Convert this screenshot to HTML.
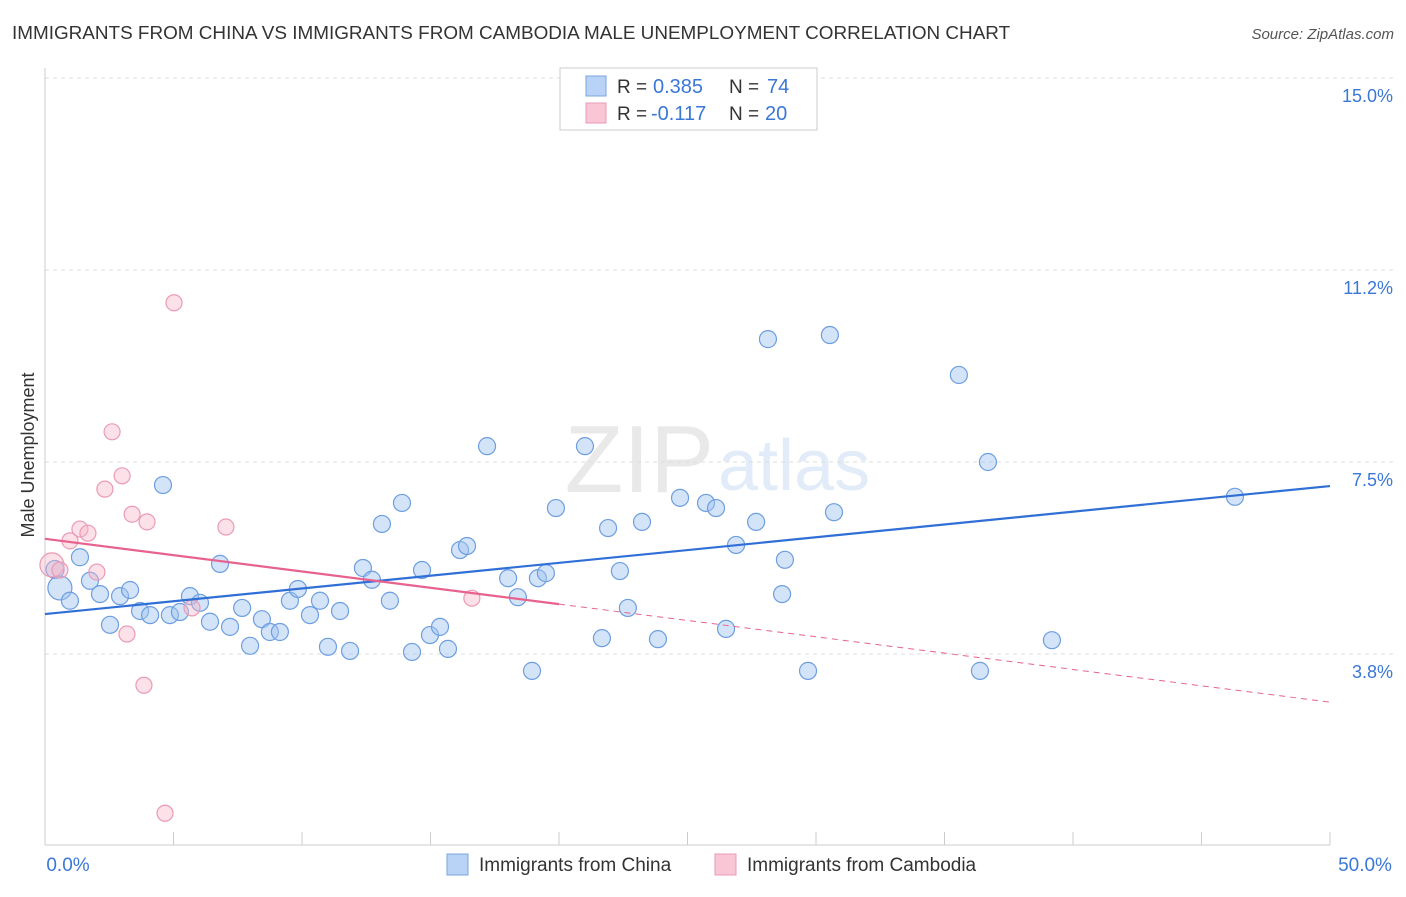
<!DOCTYPE html>
<html><head><meta charset="utf-8"><style>
body{margin:0;background:#fff;font-family:"Liberation Sans",sans-serif;}
svg text{font-family:"Liberation Sans",sans-serif;}
</style></head><body>
<svg id="chart" width="1406" height="892" viewBox="0 0 1406 892">
<text x="12" y="39" font-size="18.9" fill="#333">IMMIGRANTS FROM CHINA VS IMMIGRANTS FROM CAMBODIA MALE UNEMPLOYMENT CORRELATION CHART</text>
<text x="1394" y="39" font-size="15" fill="#555" font-style="italic" text-anchor="end">Source: ZipAtlas.com</text>
<text x="714" y="492" font-size="96" fill="#e9e9e9" text-anchor="end" font-family="Liberation Serif">ZIP</text>
<text x="718" y="490" font-size="72" fill="#e2ecf8">atlas</text>
<g id="grid"></g>
<g id="axes"></g>
<g id="marks"></g>
<text transform="translate(34,455) rotate(-90)" font-size="18" fill="#333" text-anchor="middle">Male Unemployment</text>
<g>
<rect x="560" y="68" width="257" height="62" fill="#fff" stroke="#ccc"/>
<rect x="586" y="76" width="20" height="20" fill="#b8d3f5" stroke="#7aa6e0"/>
<text x="617" y="93" font-size="19" fill="#333">R =</text>
<text x="653" y="93" font-size="20" fill="#3b77d6">0.385</text>
<text x="729" y="93" font-size="19" fill="#333">N =</text>
<text x="767" y="93" font-size="20" fill="#3b77d6">74</text>
<rect x="586" y="103" width="20" height="20" fill="#f9c6d6" stroke="#e99ab4"/>
<text x="617" y="120" font-size="19" fill="#333">R =</text>
<text x="651" y="120" font-size="20" fill="#3b77d6">-0.117</text>
<text x="729" y="120" font-size="19" fill="#333">N =</text>
<text x="765" y="120" font-size="20" fill="#3b77d6">20</text>
</g>
<g>
<rect x="447" y="854" width="21" height="21" fill="#b8d3f5" stroke="#7aa6e0"/>
<text x="479" y="871" font-size="19" fill="#333">Immigrants from China</text>
<rect x="715" y="854" width="21" height="21" fill="#f9c6d6" stroke="#e99ab4"/>
<text x="747" y="871" font-size="19" fill="#333">Immigrants from Cambodia</text>
</g>
</svg>
<script>
const yTicks=[3.75,7.5,11.25,15];
const yTickLabels=["3.8%","7.5%","11.2%","15.0%"];
const xTickLabels=["0.0%","50.0%"];
const chinaX=[0.39,0.58,0.97,1.36,1.75,2.14,2.53,2.92,3.31,3.70,4.09,4.59,4.86,5.25,5.64,6.03,6.42,6.81,7.20,7.67,7.98,8.44,8.75,9.14,9.53,9.84,10.31,10.70,11.01,11.48,11.87,12.37,12.72,13.11,13.42,13.89,14.28,14.67,14.98,15.37,15.68,16.15,16.42,17.20,18.02,18.40,18.95,19.18,19.49,19.88,21.01,21.67,21.91,22.37,22.68,23.23,23.85,24.71,25.72,26.11,26.50,26.89,27.67,28.13,28.68,28.79,29.69,30.54,30.70,35.56,36.38,36.69,39.18,46.30];
const chinaY=[5.40,5.04,4.79,5.64,5.18,4.92,4.32,4.88,5.00,4.59,4.51,7.05,4.51,4.57,4.88,4.75,4.38,5.51,4.28,4.65,3.91,4.43,4.18,4.18,4.79,5.02,4.51,4.79,3.89,4.59,3.81,5.43,5.20,6.29,4.79,6.70,3.79,5.39,4.12,4.28,3.85,5.78,5.86,7.81,5.23,4.86,3.42,5.23,5.33,6.60,7.81,4.06,6.21,5.37,4.65,6.33,4.04,6.80,6.70,6.60,4.24,5.88,6.33,9.90,4.92,5.59,3.42,9.98,6.52,9.20,3.42,7.50,4.02,6.82];
const cambX=[0.27,0.58,0.97,1.36,1.67,2.02,2.33,2.61,3.00,3.19,3.39,3.85,3.97,4.67,5.02,5.72,7.04,16.61];
const cambY=[5.49,5.39,5.96,6.19,6.11,5.35,6.97,8.09,7.23,4.14,6.48,3.14,6.33,0.64,10.61,4.65,6.23,4.84];
const chinaFit=[4.53,7.03];
const cambFit=[6.0,2.81];
const cambSolidEnd=20;

const NS="http://www.w3.org/2000/svg";
const X0=45,X1=1330,YB=845,PPU=51.2;
const sx=v=>X0+(v/50)*(X1-X0);
const sy=v=>YB-v*PPU+ (654-(YB-3.75*PPU));
function mk(tag,attrs,parent){const e=document.createElementNS(NS,tag);for(const k in attrs)e.setAttribute(k,attrs[k]);document.getElementById(parent).appendChild(e);return e;}
yTicks.forEach((t,i)=>{
  let l=mk('line',{x1:X0,x2:1395,y1:sy(t),y2:sy(t),stroke:'#ddd','stroke-dasharray':'4,4'},'grid');
  
  
  let tx=mk('text',{x:1393,y:sy(t)+24,'font-size':18,fill:'#3b77d6','text-anchor':'end'},'axes');
  tx.textContent=yTickLabels[i];
  
  
});
let ax=mk('line',{x1:X0,x2:X0,y1:68,y2:YB,stroke:'#ccc'},'axes');


let bx=mk('line',{x1:X0,x2:X1,y1:YB,y2:YB,stroke:'#ccc'},'axes');


for(let i=0;i<=10;i++){
  let t=mk('line',{x1:sx(i*5),x2:sx(i*5),y1:832,y2:YB,stroke:'#ccc'},'axes');
  
  
}
[[xTickLabels[0],68,'middle'],[xTickLabels[1],1365,'middle']].forEach(([s,x,a])=>{
  let t=mk('text',{x:x,y:871,'font-size':19,fill:'#3b77d6','text-anchor':a},'axes');
  t.textContent=s;
  
  
});
chinaX.forEach((v,i)=>{
  let c=mk('circle',{cx:sx(v),cy:sy(chinaY[i]),r:i<2?(i==1?12:9):8.5,fill:'rgba(160,195,240,0.45)',stroke:'#6d9ee0','stroke-width':1.2},'marks');
  
  
});
cambX.forEach((v,i)=>{
  let c=mk('circle',{cx:sx(v),cy:sy(cambY[i]),r:i==0?12:8,fill:'rgba(247,180,200,0.4)',stroke:'#eb9ab5','stroke-width':1.2},'marks');
  
  
});
const cf=x=>cambFit[0]+(cambFit[1]-cambFit[0])*x/50;
let l1=mk('line',{x1:sx(0),y1:sy(chinaFit[0]),x2:sx(50),y2:sy(chinaFit[1]),stroke:'#2f6fd6','stroke-width':2.2},'marks');


let l2=mk('line',{x1:sx(0),y1:sy(cf(0)),x2:sx(cambSolidEnd),y2:sy(cf(cambSolidEnd)),stroke:'#e8628e','stroke-width':2.2},'marks');


let l3=mk('line',{x1:sx(cambSolidEnd),y1:sy(cf(cambSolidEnd)),x2:sx(50),y2:sy(cf(50)),stroke:'#e8628e','stroke-width':1,'stroke-dasharray':'6,5'},'marks');


</script>
</body></html>
